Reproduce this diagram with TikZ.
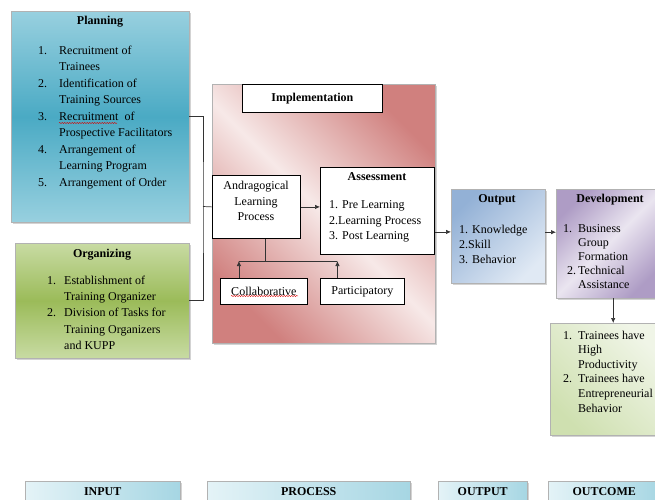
\documentclass[tikz,border=0pt]{standalone}
\usepackage{fontspec}
\setmainfont{Liberation Serif}
\usetikzlibrary{arrows.meta,shadows,decorations.pathmorphing}

\definecolor{planlight}{HTML}{98D0DF}
\definecolor{plandark}{HTML}{4AAAC4}
\definecolor{orglight}{HTML}{C8DBA3}
\definecolor{orgdark}{HTML}{9BBB59}
\definecolor{impldark}{HTML}{D0807E}
\definecolor{impllight}{HTML}{F7E9E8}
\definecolor{outdark}{HTML}{93B1D6}
\definecolor{outlight}{HTML}{E0E9F4}
\definecolor{devdark}{HTML}{AE9CC5}
\definecolor{devlight}{HTML}{EAE5F0}
\definecolor{resdark}{HTML}{CFE0B0}
\definecolor{reslight}{HTML}{F0F5E7}
\definecolor{tabdark}{HTML}{A6D6E3}
\definecolor{tablight}{HTML}{E4F3F7}

\tikzset{
  colbox/.style={draw=gray!60, line width=0.4pt, anchor=north west, inner sep=0pt,
    drop shadow={opacity=0.35, shadow xshift=2pt, shadow yshift=-2pt}},
  whitebox/.style={draw=black, line width=0.8pt, fill=white, anchor=north west, inner sep=0pt},
  boxtitle/.style={font=\fontsize{12}{14}\selectfont\bfseries},
  tab/.style={colbox, minimum height=20, left color=tablight, right color=tabdark,
    font=\fontsize{12}{14}\selectfont\bfseries},
  boxlist/.style={anchor=north west, align=left, inner sep=0pt},
  link/.style={draw=black!80, line width=0.7pt},
  arr/.style={link, -{Latex[length=5pt,width=4.5pt]}},
  spellmark/.style={red!85!black, line width=0.4pt, decorate,
    decoration={snake, amplitude=0.6pt, segment length=2.5pt}}
}

\begin{document}
\begin{tikzpicture}[x=1pt, y=-1pt, font=\fontsize{12}{14}\selectfont]
\def\listfont#1{\fontsize{12}{#1}\selectfont}
\useasboundingbox (0,0) rectangle (655,499);

% INPUT
\node[colbox, minimum width=178, minimum height=211, top color=planlight,
  bottom color=planlight, middle color=plandark] (planning) at (11,11) {};
\node[boxtitle] (planningT) at (100,22) {Planning};
\node[boxlist, font=\listfont{16.5}] (planningL) at (38,45.5) {%
  \makebox[21pt][l]{1.}Recruitment of\\ \hspace*{21pt}Trainees\\
  \makebox[21pt][l]{2.}Identification of\\ \hspace*{21pt}Training Sources\\
  \makebox[21pt][l]{3.}Recruitment~ of\\ \hspace*{21pt}Prospective Facilitators\\
  \makebox[21pt][l]{4.}Arrangement of\\ \hspace*{21pt}Learning Program\\
  \makebox[21pt][l]{5.}Arrangement of Order};
\draw[spellmark] (59,123) -- (117,123);

\node[colbox, minimum width=174, minimum height=115, top color=orglight,
  bottom color=orglight, middle color=orgdark] (organizing) at (15,243) {};
\node[boxtitle] (organizingT) at (102,255) {Organizing};
\node[boxlist, font=\listfont{16.3}] (organizingL) at (47,275.5) {%
  \makebox[17pt][l]{1.}Establishment of\\ \hspace*{17pt}Training Organizer\\
  \makebox[17pt][l]{2.}Division of Tasks for\\ \hspace*{17pt}Training Organizers\\
  \hspace*{17pt}and KUPP};

% PROCESS
\node[colbox, minimum width=223, minimum height=259, top color=impldark,
  bottom color=impldark, middle color=impllight, shading angle=-45] (impl) at (212,84) {};
\node[whitebox, minimum width=140, minimum height=28, boxtitle] (implT) at (242,84) {Implementation};

\node[whitebox, minimum width=88, minimum height=63] (andra) at (212,175) {};
\node[align=center, font=\listfont{15.5}] (andraT) at (256,201) {Andragogical\\Learning\\Process};

\node[whitebox, minimum width=114, minimum height=87] (assess) at (320,167) {};
\node[boxtitle] (assessT) at (377,177) {Assessment};
\node[boxlist, font=\listfont{15.5}] (assessL) at (329,200.5) {%
  1. Pre Learning\\2.Learning Process\\3. Post Learning};

\node[whitebox, minimum width=87, minimum height=26] (collab) at (220,278) {Collaborative};
\node[whitebox, minimum width=84, minimum height=26] (partic) at (320,278) {Participatory};
\draw[spellmark] (231,296) -- (298,296);

% OUTPUT
\node[colbox, minimum width=94, minimum height=94, top color=outdark,
  bottom color=outlight, shading angle=45] (output) at (451,189) {};
\node[boxtitle] (outputT) at (497,200) {Output};
\node[boxlist, font=\listfont{15}] (outputL) at (459,224.5) {%
  1. Knowledge\\2.Skill\\3. Behavior};

% OUTCOME
\node[colbox, minimum width=104, minimum height=109, top color=devdark,
  bottom color=devdark, middle color=devlight, shading angle=45] (devel) at (556,189) {};
\node[boxtitle] (develT) at (610,200) {Development};
\node[boxlist, font=\listfont{14}] (develL) at (563,224.5) {%
  \makebox[15pt][l]{1.}Business\\ \hspace*{15pt}Group\\ \hspace*{15pt}Formation\\
  \hspace*{4pt}\makebox[11pt][l]{2.}Technical\\ \hspace*{15pt}Assistance};

\node[colbox, minimum width=110, minimum height=112, top color=reslight,
  bottom color=resdark, shading angle=-45] (outcome) at (550,323) {};
\node[boxlist, font=\listfont{14.6}] (outcomeL) at (563,330.5) {%
  \makebox[15pt][l]{1.}Trainees have\\ \hspace*{15pt}High\\ \hspace*{15pt}Productivity\\
  \makebox[15pt][l]{2.}Trainees have\\ \hspace*{15pt}Entrepreneurial\\ \hspace*{15pt}Behavior};

% connectors
\coordinate (join) at (203,206.5);
\draw[link] (planning.east) -| (join) |- (organizing.east);
\draw[link] (join) -- (andra.west);
\draw[arr] (andra.east) -- (andra.east -| assess.west);
\draw[arr] ([yshift=-21pt]assess.east) -- ([yshift=-21pt]assess.east -| output.west);
\draw[arr] ([yshift=4pt]output.east) -- ([yshift=4pt]output.east -| devel.west);
\draw[arr] ([xshift=5pt]devel.south) -- ([xshift=5pt]devel.south |- outcome.north);

\coordinate (tee) at (265,261);
\draw[link] (andra.south -| tee) -- (tee);
\draw[link] ([xshift=-25pt]collab.north |- tee) -- ([xshift=-25pt]partic.north |- tee);
\draw[arr] ([xshift=-25pt]collab.north) -- ([xshift=-25pt]collab.north |- tee);
\draw[arr] ([xshift=-25pt]partic.north) -- ([xshift=-25pt]partic.north |- tee);

% BOTTOM ROW
\node[tab, minimum width=155] (tabIn) at (25,481) {INPUT};
\node[tab, minimum width=203] (tabProc) at (207,481) {PROCESS};
\node[tab, minimum width=89] (tabOut) at (438,481) {OUTPUT};
\node[tab, minimum width=112] (tabOutc) at (548,481) {OUTCOME};
\end{tikzpicture}
\end{document}
